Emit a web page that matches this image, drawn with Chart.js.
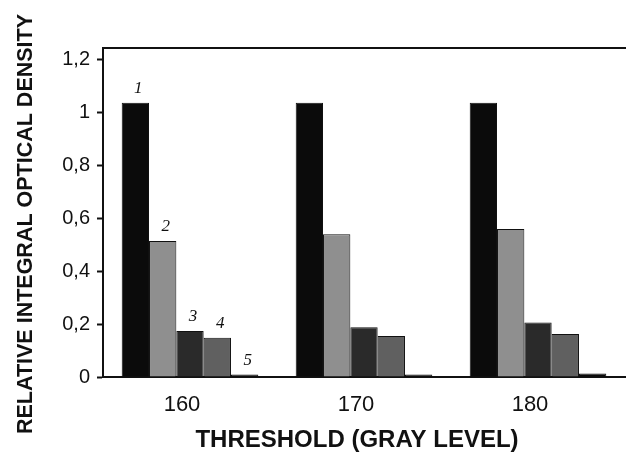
<!DOCTYPE html>
<html>
<head>
<meta charset="utf-8">
<script src="https://cdn.jsdelivr.net/npm/chart.js@4/dist/chart.umd.min.js"></script>
<style>
html,body{margin:0;padding:0;background:#fff;}
#wrap{width:627px;height:456px;position:relative;}
</style>
</head>
<body>
<div id="wrap"><canvas id="c" width="627" height="456"></canvas></div>
<script>
const categories = ['160', '170', '180'];
const seriesNames = ['1', '2', '3', '4', '5'];
const series1 = [1.038, 1.038, 1.038];
const series2 = [0.515, 0.54, 0.56];
const series3 = [0.174, 0.188, 0.206];
const series4 = [0.149, 0.155, 0.163];
const series5 = [0.009, 0.009, 0.013];
const yTickValues = [0, 0.2, 0.4, 0.6, 0.8, 1.0, 1.2];
const xTitle = 'THRESHOLD (GRAY LEVEL)';
const yTitle = 'RELATIVE INTEGRAL OPTICAL DENSITY';

const fills = ['#0b0b0b', '#8f8f8f', '#2a2a2a', '#606060', '#0b0b0b'];
const allSeries = [series1, series2, series3, series4, series5];

const numberLabels = {
  id: 'numberLabels',
  afterDatasetsDraw(chart) {
    const ctx = chart.ctx;
    ctx.save();
    ctx.font = 'italic 17px "Liberation Serif", "DejaVu Serif", serif';
    ctx.fillStyle = '#111';
    ctx.textAlign = 'center';
    ctx.textBaseline = 'bottom';
    chart.data.datasets.forEach((ds, i) => {
      const bar = chart.getDatasetMeta(i).data[0];
      ctx.fillText(seriesNames[i], bar.x + 3, bar.y - 6);
    });
    ctx.restore();
  }
};

const axisTitles = {
  id: 'axisTitles',
  afterDraw(chart) {
    const ctx = chart.ctx;
    ctx.save();
    ctx.fillStyle = '#111';
    ctx.textAlign = 'center';
    ctx.textBaseline = 'middle';
    ctx.font = 'bold 24px "Liberation Sans", Arial, sans-serif';
    ctx.fillText(xTitle, 357, 440);
    ctx.translate(26, 224);
    ctx.rotate(-Math.PI / 2);
    ctx.font = 'bold 21.5px "Liberation Sans", Arial, sans-serif';
    ctx.fillText(yTitle, 0, 0);
    ctx.restore();
  }
};

new Chart(document.getElementById('c'), {
  type: 'bar',
  data: {
    labels: categories,
    datasets: allSeries.map((d, i) => ({
      label: seriesNames[i],
      data: d,
      backgroundColor: fills[i],
      borderColor: '#111',
      borderWidth: 1,
      borderSkipped: 'bottom',
      categoryPercentage: 0.785,
      barPercentage: 1.0,
      xAxisID: 'x',
      yAxisID: 'y'
    }))
  },
  options: {
    responsive: false,
    animation: false,
    devicePixelRatio: 1,
    layout: { padding: { top: 48, right: 2, bottom: 0, left: 0 } },
    plugins: { legend: { display: false }, tooltip: { enabled: false } },
    scales: {
      x: {
        position: 'bottom',
        grid: { display: false, drawTicks: false },
        border: { display: true, color: '#111', width: 2 },
        ticks: {
          color: '#111',
          font: { family: '"Liberation Sans", Arial, sans-serif', size: 22 },
          padding: 15,
          labelOffset: -8
        },
        afterFit(scale) { scale.height = 79; }
      },
      xTop: {
        position: 'top',
        display: true,
        grid: { display: false, drawTicks: false },
        border: { display: true, color: '#111', width: 2 },
        ticks: { display: false },
        afterFit(scale) { scale.height = 0; }
      },
      y: {
        position: 'left',
        min: 0,
        max: 1.245,
        afterBuildTicks(scale) { scale.ticks = yTickValues.map(v => ({ value: v })); },
        grid: { display: true, drawOnChartArea: false, drawTicks: true, tickLength: 6, tickColor: '#111', tickWidth: 2 },
        border: { display: true, color: '#111', width: 2 },
        ticks: {
          color: '#111',
          font: { family: '"Liberation Sans", Arial, sans-serif', size: 20 },
          padding: 7,
          callback: v => String(Math.round(v * 10) / 10).replace('.', ',')
        },
        afterFit(scale) { scale.width = 103; }
      }
    }
  },
  plugins: [numberLabels, axisTitles]
});
</script>
</body>
</html>
